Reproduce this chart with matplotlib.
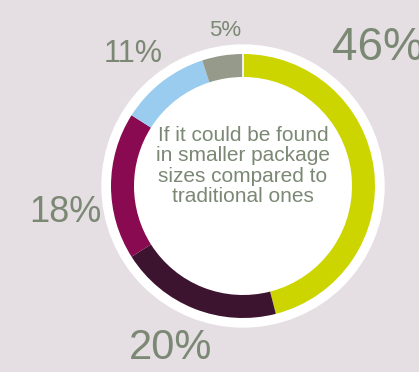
import matplotlib.pyplot as plt
from matplotlib.patches import Circle

# shares, clockwise from 12 o'clock
labels = ['46%', '20%', '18%', '11%', '5%']
shares = [46, 20, 18, 11, 5]
colors = ['#cdd500', '#3d1430', '#8a0a52', '#99ccee', '#959a8a']
center_text = 'If it could be found\nin smaller package\nsizes compared to\ntraditional ones'

bg = '#e5dee3'
txt = '#7b8874'

W, H = 419, 372
fig = plt.figure(figsize=(W / 100, H / 100), dpi=100, facecolor=bg)
ax = fig.add_axes([0, 0, 1, 1])
ax.set_facecolor(bg)

cx, cy = 243, H - 186
ax.add_patch(Circle((cx, cy), 141, color='white', zorder=0))

wedges, _ = ax.pie(shares, colors=colors, startangle=90, counterclock=False,
                   center=(cx, cy), radius=132, frame=True,
                   wedgeprops=dict(width=23, linewidth=0))
# thin white seam at the top between the last and first slice
ax.plot([cx, cx], [cy + 108, cy + 133], color='white', lw=1.2, zorder=5)

ax.set_xlim(0, W)
ax.set_ylim(0, H)
ax.set_aspect('equal')
ax.axis('off')

font = 'Liberation Sans'
# label positions and sizes per slice
label_pos = [(378, H - 48, 33), (171, H - 348, 30), (65, H - 212, 26),
             (133, H - 54, 22), (225, H - 31, 16)]
for lab, (x, y, fs) in zip(labels, label_pos):
    ax.text(x, y, lab, fontsize=fs, color=txt, family=font,
            ha='center', va='center')

ax.text(cx, H - 166, center_text, fontsize=15, color=txt, family=font,
        ha='center', va='center', linespacing=1.08)

fig.savefig('out.png', dpi=100, facecolor=bg)
